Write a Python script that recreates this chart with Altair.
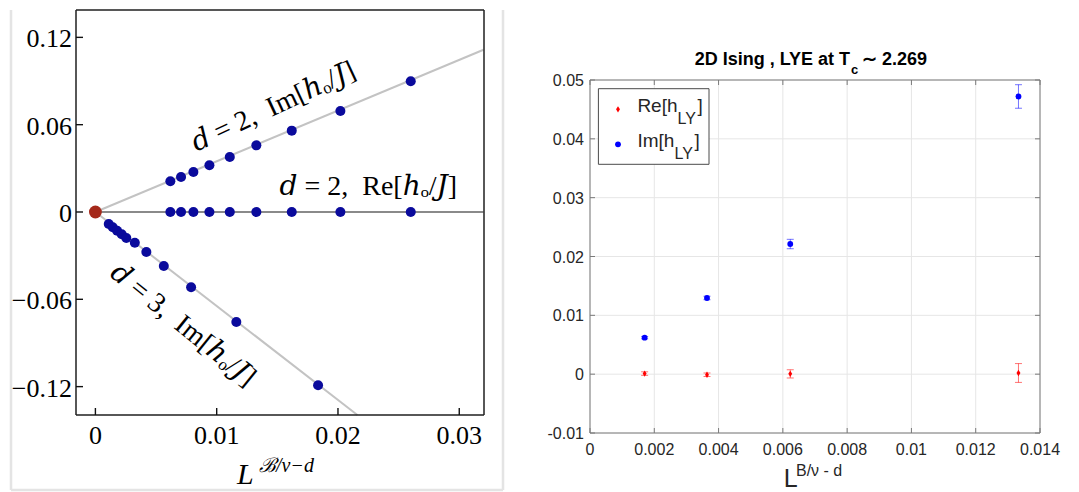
import altair as alt
import pandas as pd

SERIF = "Liberation Serif, DejaVu Serif, serif"
SANS = "Liberation Sans, Arial, Helvetica, sans-serif"

# ---------------- left panel data ----------------
L_X_TICKS = [0, 0.01, 0.02, 0.03]
L_Y_TICKS = [-0.12, -0.06, 0, 0.06, 0.12]
L_X_LABELS = ["0", "0.01", "0.02", "0.03"]
L_Y_LABELS = ["−0.12", "−0.06", "0", "0.06", "0.12"]
L_X_DOMAIN = [-0.0016, 0.03204]
L_Y_DOMAIN = [-0.1395, 0.1388]

D2_X = [0.00618, 0.00706, 0.00808, 0.00940, 0.01108, 0.01327, 0.01619, 0.0202, 0.0260]
D2_IM = [0.0211, 0.0240, 0.0275, 0.0321, 0.0378, 0.0458, 0.0559, 0.0694, 0.0898]
D2_RE = [0, 0, 0, 0, 0, 0, 0, 0, 0]
D3_X = [0.00110, 0.00143, 0.00179, 0.00217, 0.00255, 0.00325, 0.00420, 0.00564, 0.00789, 0.01162, 0.01836]
D3_IM = [-0.0082, -0.0105, -0.0129, -0.0153, -0.0179, -0.0211, -0.0275, -0.0371, -0.0517, -0.0756, -0.1191]
ORIGIN_X = [0]
ORIGIN_Y = [0]

FIT_IM2_X = [0, 0.032]
FIT_IM2_Y = [0, 0.1115]
FIT_RE2_X = [0, 0.032]
FIT_RE2_Y = [0, 0]
FIT_D3_X = [0, 0.0216]
FIT_D3_Y = [0, -0.1395]

GAP = " \u2005"   # space + four-per-em space
ANNOT_TEXT = [f"𝑑 = 2,{GAP}Im[ℎₒ/𝐽]", f"𝑑 = 2,{GAP}Re[ℎₒ/𝐽]", f"𝑑 = 3,{GAP}Im[ℎₒ/𝐽]"]
ANNOT_X = [0.0147, 0.0225, 0.0072]
ANNOT_Y = [0.0721, 0.0172, -0.0778]
ANNOT_ANGLE = [335, 0, 39]

# ---------------- right panel data ----------------
R_X_TICKS = [0, 0.002, 0.004, 0.006, 0.008, 0.01, 0.012, 0.014]
R_Y_TICKS = [-0.01, 0, 0.01, 0.02, 0.03, 0.04, 0.05]
R_X_LABELS = ["0", "0.002", "0.004", "0.006", "0.008", "0.01", "0.012", "0.014"]
R_Y_LABELS = ["-0.01", "0", "0.01", "0.02", "0.03", "0.04", "0.05"]
R_X = [0.0017, 0.00364, 0.00623, 0.01333]
R_IM = [0.00621, 0.01295, 0.02212, 0.0472]
R_IM_ERR = [0.0002, 0.0003, 0.0008, 0.002]
R_RE = [0.0001, -0.0001, 0.00005, 0.0002]
R_RE_ERR = [0.0003, 0.0003, 0.0007, 0.0016]

one = pd.DataFrame({"k": [0]})


def txt(t, x, y, size, font, align="left", baseline="alphabetic", weight="normal",
        style="normal", color="#000000", angle=0):
    return alt.Chart(one).mark_text(
        text=t, align=align, baseline=baseline, fontSize=size, font=font,
        fontWeight=weight, fontStyle=style, color=color, angle=angle
    ).encode(x=alt.value(x), y=alt.value(y))


def vrule(x, y1, y2, color, w):
    return alt.Chart(one).mark_rule(color=color, strokeWidth=w).encode(
        x=alt.value(x), y=alt.value(y1), y2=alt.value(y2))


def hrule(y, x1, x2, color, w):
    return alt.Chart(one).mark_rule(color=color, strokeWidth=w).encode(
        y=alt.value(y), x=alt.value(x1), x2=alt.value(x2))


# ================= LEFT =================
WL, HL = 408, 405
xL = alt.Scale(domain=L_X_DOMAIN, nice=False, zero=False)
yL = alt.Scale(domain=L_Y_DOMAIN, nice=False, zero=False)


def LX(f):
    return alt.X(f"{f}:Q", scale=xL, axis=None)


def LY(f):
    return alt.Y(f"{f}:Q", scale=yL, axis=None)


box_col = "#e4e4e4"
gray_box = [
    vrule(-65, 0, 480, box_col, 2.5),
    vrule(427, 0, 480, box_col, 2.5),
    hrule(480, -65, 427, box_col, 2.5),
]
fcol = "#1f1f1f"
left_frame = [
    vrule(0, 0, HL, fcol, 1.5),
    vrule(WL, 0, HL, fcol, 1.5),
    hrule(0, 0, WL, fcol, 1.5),
    hrule(HL, 0, WL, fcol, 1.5),
]

fit_im_df = pd.DataFrame({"x": FIT_IM2_X + FIT_D3_X, "y": FIT_IM2_Y + FIT_D3_Y,
                          "g": ["a"] * len(FIT_IM2_X) + ["b"] * len(FIT_D3_X)})
fit_re_df = pd.DataFrame({"x": FIT_RE2_X, "y": FIT_RE2_Y})
fit_im = alt.Chart(fit_im_df).mark_line(color="#c3c3c3", strokeWidth=2).encode(
    x=LX("x"), y=LY("y"), detail="g:N")
fit_re = alt.Chart(fit_re_df).mark_line(color="#8a8a8a", strokeWidth=2.2).encode(
    x=LX("x"), y=LY("y"))

pts_df = pd.DataFrame({"x": D2_X + D2_X + D3_X, "y": D2_IM + D2_RE + D3_IM})
pts = alt.Chart(pts_df).mark_circle(size=100, color="#0a0a9c", opacity=1).encode(
    x=LX("x"), y=LY("y"))

orig = alt.Chart(pd.DataFrame({"x": ORIGIN_X, "y": ORIGIN_Y})).mark_circle(
    size=165, color="#a5291b", opacity=1).encode(x=LX("x"), y=LY("y"))

lxt = pd.DataFrame({"v": L_X_TICKS, "lab": L_X_LABELS})
lyt = pd.DataFrame({"v": L_Y_TICKS, "lab": L_Y_LABELS})
ltick_x = alt.Chart(lxt).mark_rule(color="#111111", strokeWidth=1.4).encode(
    x=LX("v"), y=alt.value(HL), y2=alt.value(HL - 7))
ltick_y = alt.Chart(lyt).mark_rule(color="#111111", strokeWidth=1.4).encode(
    y=LY("v"), x=alt.value(0), x2=alt.value(7))
llab_x = alt.Chart(lxt).mark_text(align="center", baseline="alphabetic", font=SERIF, fontSize=26,
                                  color="#000000").encode(x=LX("v"), y=alt.value(HL + 29), text="lab:N")
llab_y = alt.Chart(lyt).mark_text(align="right", baseline="alphabetic", font=SERIF, fontSize=26,
                                  color="#000000", dy=10).encode(y=LY("v"), x=alt.value(-4), text="lab:N")

annots = []
for t, ax, ay, ang in zip(ANNOT_TEXT, ANNOT_X, ANNOT_Y, ANNOT_ANGLE):
    adf = pd.DataFrame({"x": [ax], "y": [ay], "t": [t]})
    annots.append(alt.Chart(adf).mark_text(
        align="center", baseline="middle", fontSize=28, font=SERIF, color="#000000", angle=ang
    ).encode(x=LX("x"), y=LY("y"), text="t:N"))

l_title = [
    txt("L", 161, 473.7, 30, SERIF, style="italic"),
    txt("ℬ/ν−d", 183, 462, 20, SERIF, style="italic"),
]

left = alt.layer(*gray_box, fit_im, fit_re, pts, orig, *left_frame, ltick_x, ltick_y,
                 llab_x, llab_y, *annots, *l_title).properties(width=WL, height=HL)

# ================= RIGHT =================
WR, HR = 450, 423
R_TOP = 70
r_y0, r_y1 = R_Y_TICKS[0], R_Y_TICKS[-1]
r_x0, r_x1 = R_X_TICKS[0], R_X_TICKS[-1]
# extend the domain upward so the data area starts R_TOP px below the view top
r_ytop = r_y1 + (r_y1 - r_y0) * R_TOP / (HR - R_TOP)
xR = alt.Scale(domain=[r_x0, r_x1], nice=False, zero=False)
yR = alt.Scale(domain=[r_y0, r_ytop], nice=False, zero=False)

lab_col = "#262626"


def RX(f):
    return alt.X(f"{f}:Q", scale=xR, axis=None)


def RY(f):
    return alt.Y(f"{f}:Q", scale=yR, axis=None)


grid_col = "#e6e6e6"
frame_col = "#7a7a7a"
xt = pd.DataFrame({"v": R_X_TICKS, "lab": R_X_LABELS,
                   "lo": [r_y0] * len(R_X_TICKS), "hi": [r_y1] * len(R_X_TICKS)})
yt = pd.DataFrame({"v": R_Y_TICKS, "lab": R_Y_LABELS})

grid_x = alt.Chart(xt).mark_rule(color=grid_col, strokeWidth=1).encode(
    x=RX("v"), y=RY("lo"), y2="hi:Q")
grid_y = alt.Chart(yt).mark_rule(color=grid_col, strokeWidth=1).encode(
    y=RY("v"), x=alt.value(0), x2=alt.value(WR))

frame = [
    vrule(0, R_TOP, HR, frame_col, 1),
    vrule(WR, R_TOP, HR, frame_col, 1),
    hrule(R_TOP, 0, WR, frame_col, 1),
    hrule(HR, 0, WR, frame_col, 1),
]
rticks = [
    alt.Chart(xt).mark_rule(color=frame_col, strokeWidth=1).encode(
        x=RX("v"), y=alt.value(HR), y2=alt.value(HR - 5)),
    alt.Chart(xt).mark_rule(color=frame_col, strokeWidth=1).encode(
        x=RX("v"), y=alt.value(R_TOP), y2=alt.value(R_TOP + 5)),
    alt.Chart(yt).mark_rule(color=frame_col, strokeWidth=1).encode(
        y=RY("v"), x=alt.value(0), x2=alt.value(5)),
    alt.Chart(yt).mark_rule(color=frame_col, strokeWidth=1).encode(
        y=RY("v"), x=alt.value(WR - 5), x2=alt.value(WR)),
]
rlab_x = alt.Chart(xt).mark_text(align="center", baseline="alphabetic", font=SANS, fontSize=16,
                                 color=lab_col).encode(x=RX("v"), y=alt.value(HR + 22), text="lab:N")
rlab_y = alt.Chart(yt).mark_text(align="right", baseline="alphabetic", font=SANS, fontSize=16,
                                 color=lab_col, dy=6).encode(y=RY("v"), x=alt.value(-6), text="lab:N")

im_df = pd.DataFrame({"x": R_X, "y": R_IM,
                      "lo": [a - b for a, b in zip(R_IM, R_IM_ERR)],
                      "hi": [a + b for a, b in zip(R_IM, R_IM_ERR)]})
re_df = pd.DataFrame({"x": R_X, "y": R_RE,
                      "lo": [a - b for a, b in zip(R_RE, R_RE_ERR)],
                      "hi": [a + b for a, b in zip(R_RE, R_RE_ERR)]})

IM_COL = "#0000ff"
RE_COL = "#ff0000"
DIAMOND = "M0,-1L0.62,0L0,1L-0.62,0Z"


def errbars(df, col):
    return [
        alt.Chart(df).mark_rule(color=col, strokeWidth=1, opacity=0.55).encode(
            x=RX("x"), y=RY("lo"), y2="hi:Q"),
        alt.Chart(df).mark_tick(color=col, orient="horizontal", size=7, thickness=1, opacity=0.55).encode(
            x=RX("x"), y=RY("lo")),
        alt.Chart(df).mark_tick(color=col, orient="horizontal", size=7, thickness=1, opacity=0.55).encode(
            x=RX("x"), y=RY("hi")),
    ]


im_pts = alt.Chart(im_df).mark_point(filled=True, shape="circle", size=34, color=IM_COL, opacity=1).encode(
    x=RX("x"), y=RY("y"))
re_pts = alt.Chart(re_df).mark_point(filled=True, shape=DIAMOND, size=40, color=RE_COL, opacity=1).encode(
    x=RX("x"), y=RY("y"))

# legend
leg = [
    alt.Chart(one).mark_rect(fill="#ffffff", stroke="#4a4a4a", strokeWidth=1).encode(
        x=alt.value(8.4), x2=alt.value(119), y=alt.value(78.7), y2=alt.value(154.3)),
    alt.Chart(one).mark_point(filled=True, shape=DIAMOND, size=40, color=RE_COL, opacity=1).encode(
        x=alt.value(28), y=alt.value(99.3)),
    alt.Chart(one).mark_point(filled=True, shape="circle", size=34, color=IM_COL, opacity=1).encode(
        x=alt.value(28), y=alt.value(134.3)),
    txt("Re[h", 47.4, 102, 19, SANS, color=lab_col),
    txt("LY", 87.6, 113.7, 16, SANS, color=lab_col),
    txt("]", 107.6, 102, 19, SANS, color=lab_col),
    txt("Im[h", 47.4, 137, 19, SANS, color=lab_col),
    txt("LY", 84.6, 148.7, 16, SANS, color=lab_col),
    txt("]", 104.6, 137, 19, SANS, color=lab_col),
]

r_title = [
    txt("2D Ising , LYE at T", 260, 55.3, 18, SANS, align="right", weight="bold"),
    txt("c", 261, 63.5, 13, SANS, weight="bold"),
    txt("∼ 2.269", 272, 55.3, 18, SANS, weight="bold"),
]
r_xtitle = [
    txt("L", 193.7, 477, 25, SANS, color=lab_col),
    txt("B/ν - d", 206, 466, 16, SANS, color=lab_col),
]

right = alt.layer(grid_x, grid_y, *frame, *rticks, rlab_x, rlab_y,
                  *errbars(re_df, RE_COL), *errbars(im_df, IM_COL),
                  im_pts, re_pts, *leg, *r_title, *r_xtitle).properties(width=WR, height=HR)

chart = alt.hconcat(left, right, spacing=42).properties(
    padding={"left": 1, "top": 0, "right": 0, "bottom": 0},
    background="#ffffff",
).configure_view(strokeWidth=0)

chart.save("out.html", embed_options={"renderer": "svg", "actions": False})
